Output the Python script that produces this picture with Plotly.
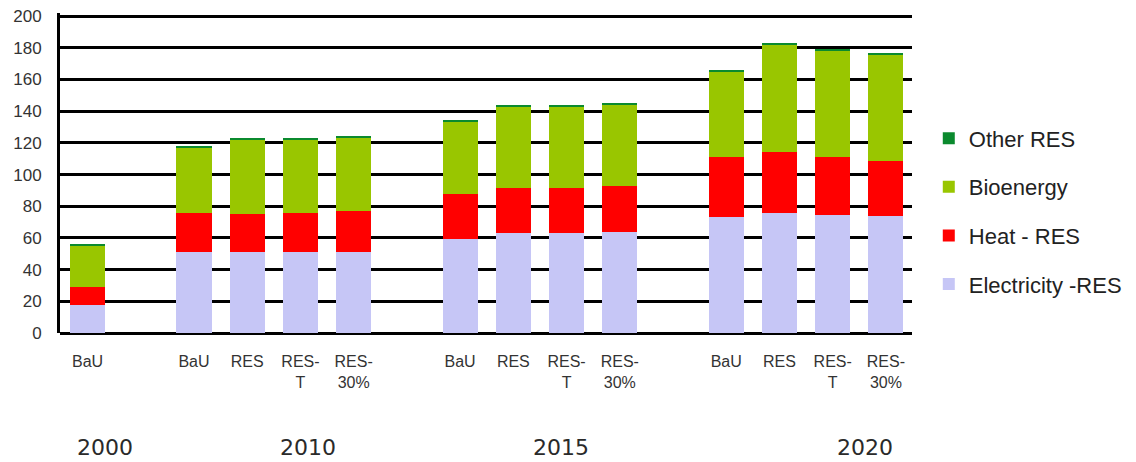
import plotly.graph_objects as go

# Slot positions along the x axis (empty slots separate the year groups)
slots = [0, 2, 3, 4, 5, 7, 8, 9, 10, 12, 13, 14, 15]
scenario_labels = ["BaU",
                   "BaU", "RES", "RES-<br>T", "RES-<br>30%",
                   "BaU", "RES", "RES-<br>T", "RES-<br>30%",
                   "BaU", "RES", "RES-<br>T", "RES-<br>30%"]

# Renewable energy by source (Mtoe)
electricity_res = [17.5, 51, 51, 51, 51, 59.5, 63, 63, 64, 73.3, 76, 74.6, 73.7]
heat_res = [11.5, 25, 24, 25, 26, 28.5, 28.5, 28.5, 28.5, 38, 38.5, 36.8, 35]
bioenergy = [26.5, 41, 47, 46, 46.5, 45.5, 51.5, 51.2, 51.5, 53.7, 67.5, 66.7, 67.3]
other_res = [0.4, 0.8, 0.6, 0.6, 1.0, 0.6, 0.6, 0.6, 0.7, 0.6, 0.5, 0.6, 0.6]

years = ["2000", "2010", "2015", "2020"]
year_x = [0.053, 0.291, 0.588, 0.945]

# name, values, colour, legend rank (top of legend first)
series = [
    ("Electricity -RES", electricity_res, "#C6C6F6", 4),
    ("Heat - RES", heat_res, "#FF0000", 3),
    ("Bioenergy", bioenergy, "#99C600", 2),
    ("Other RES", other_res, "#0B8A2E", 1),
]

fig = go.Figure()
for name, vals, color, rank in series:
    fig.add_trace(go.Bar(
        x=slots, y=vals, name=name, legendgroup=name, legendrank=rank,
        marker=dict(color=color, line=dict(width=0)),
        width=0.66,
    ))

for label, xp in zip(years, year_x):
    fig.add_annotation(
        text=label, x=xp, y=-0.3576, xref="paper", yref="paper",
        showarrow=False, xanchor="center", yanchor="middle",
        font=dict(family="DejaVu Sans", size=22, color="#2a2a2a"),
    )

fig.update_layout(
    width=1136, height=462,
    margin=dict(l=60, r=224, t=13.3, b=128.5, autoexpand=False),
    barmode="stack",
    bargap=0,
    plot_bgcolor="white",
    paper_bgcolor="white",
    font=dict(family="Liberation Sans", size=16, color="#333333"),
    legend=dict(
        x=1.0197, y=0.38, xanchor="left", yanchor="middle",
        traceorder="grouped", tracegroupgap=17,
        font=dict(family="Liberation Sans", size=22, color="#222222"),
        itemwidth=30,
    ),
    xaxis=dict(
        range=[-0.517, 15.49],
        tickvals=slots, ticktext=scenario_labels,
        showgrid=False, zeroline=False, showline=False,
        ticks="", ticklabelstandoff=17,
        tickfont=dict(size=16, color="#333333"),
    ),
    yaxis=dict(
        range=[0, 202], tickvals=list(range(0, 201, 20)),
        showgrid=True, gridcolor="black", gridwidth=3,
        zeroline=True, zerolinecolor="black", zerolinewidth=3,
        showline=True, linecolor="black", linewidth=3,
        ticks="", ticklabelstandoff=12,
        tickfont=dict(size=17, color="#333333"),
    ),
)

fig.write_html("out.html")
